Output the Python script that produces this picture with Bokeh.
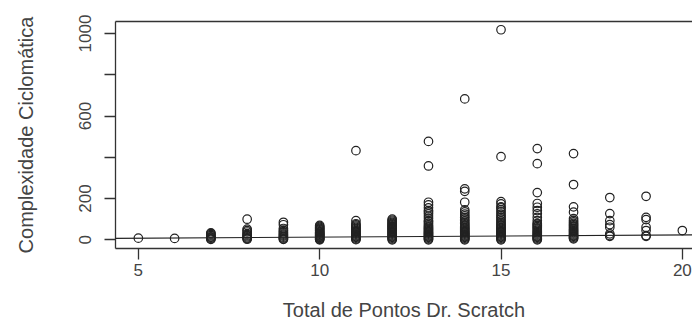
from bokeh.plotting import figure
from bokeh.models import LinearAxis, FixedTicker, Slope, ColumnDataSource
from bokeh.embed import file_html
from bokeh.resources import INLINE

# ---- data: cyclomatic complexity per Dr. Scratch total score ----
y_05 = [8]
y_06 = [7]
y_07 = [2, 5, 8, 12, 15, 20, 25, 30, 34]
y_08 = [3, 6, 10, 15, 20, 25, 30, 38, 45, 52, 100]
y_09 = [2, 5, 9, 13, 18, 23, 28, 34, 40, 47, 55, 73, 85]
y_10 = [0, 3, 6, 9, 12, 15, 18, 21, 24, 27, 30, 33, 36, 40, 44, 48, 52, 56, 60, 65, 70]
y_11 = [1, 4, 8, 12, 16, 20, 24, 28, 32, 36, 40, 45, 50, 55, 60, 66, 72, 78, 93, 432]
y_12 = [0, 4, 8, 12, 16, 20, 24, 28, 32, 36, 40, 44, 48, 52, 56, 60, 64, 68, 72, 76, 80, 85, 90, 95, 100]
y_13 = [0, 4, 8, 12, 16, 20, 24, 28, 32, 36, 40, 45, 50, 55, 60, 66, 72, 80, 88, 93, 105, 115,
        126, 135, 142, 155, 169, 182, 358, 477]
y_14 = [0, 4, 8, 12, 16, 20, 24, 28, 32, 36, 40, 45, 50, 55, 60, 66, 72, 78, 85, 92, 100, 108,
        116, 125, 135, 145, 182, 235, 247, 683]
y_15 = [0, 4, 8, 12, 16, 20, 24, 28, 32, 36, 40, 45, 50, 55, 60, 66, 72, 78, 85, 92, 100, 108,
        116, 125, 135, 145, 155, 160, 174, 185, 403, 1018]
y_16 = [0, 4, 8, 12, 16, 20, 25, 30, 35, 40, 46, 52, 58, 64, 70, 76, 80, 93, 109, 126, 142,
        158, 176, 229, 369, 442]
y_17 = [5, 9, 13, 17, 21, 25, 30, 35, 40, 45, 50, 56, 62, 68, 74, 80, 87, 94, 103, 134, 160,
        268, 418]
y_18 = [17, 21, 29, 61, 74, 93, 127, 205]
y_19 = [17, 21, 45, 61, 98, 109, 211]
y_20 = [45]

scores = [5, 6, 7, 8, 9, 10, 11, 12, 13, 14, 15, 16, 17, 18, 19, 20]
columns = [y_05, y_06, y_07, y_08, y_09, y_10, y_11, y_12, y_13, y_14, y_15, y_16,
           y_17, y_18, y_19, y_20]

# fitted line (intercept, slope)
fit_intercept = 2.8
fit_slope = 1.04

x_ticks = [5, 10, 15, 20]
y_ticks = [0, 200, 400, 600, 800, 1000]
y_tick_labels = {0: "0", 200: "200", 400: "", 600: "600", 800: "", 1000: "1000"}

xs, ys = [], []
for s, col in zip(scores, columns):
    xs += [s] * len(col)
    ys += col
src = ColumnDataSource(dict(x=xs, y=ys))

FONT = "Liberation Sans"
TXT = "#444444"
LINE = "#333333"

p = figure(width=692, height=327, x_range=(4.37, 20.28), y_range=(-42, 1058),
           output_backend="svg", toolbar_location=None,
           x_axis_location=None, y_axis_location=None,
           min_border_left=115, min_border_right=0, min_border_top=21, min_border_bottom=79)
p.grid.visible = False
p.outline_line_color = None
p.background_fill_color = "white"
p.border_fill_color = "white"

xa = LinearAxis(ticker=FixedTicker(ticks=x_ticks, minor_ticks=[]))
xa.axis_label = "Total de Pontos Dr. Scratch"
ya = LinearAxis(ticker=FixedTicker(ticks=y_ticks, minor_ticks=[]))
ya.axis_label = "Complexidade Ciclomática"
ya.major_label_overrides = y_tick_labels
ya.major_label_orientation = "vertical"
for ax in (xa, ya):
    ax.axis_line_color = LINE
    ax.axis_line_width = 1.3
    ax.major_tick_line_color = LINE
    ax.major_tick_line_width = 1.3
    ax.major_tick_out = 11
    ax.major_tick_in = 0
    ax.minor_tick_line_color = None
    ax.major_label_text_font = FONT
    ax.major_label_text_font_size = "17px"
    ax.major_label_text_color = TXT
    ax.axis_label_text_font = FONT
    ax.axis_label_text_font_size = "20px"
    ax.axis_label_text_font_style = "normal"
    ax.axis_label_text_color = TXT
xa.major_label_standoff = 4
xa.axis_label_standoff = 20
ya.major_label_standoff = 13
ya.axis_label_standoff = 40
p.add_layout(xa, "below")
p.add_layout(ya, "left")

top = LinearAxis(ticker=FixedTicker(ticks=[]), major_label_text_font_size="0px",
                 axis_line_color=LINE, axis_line_width=1.3,
                 major_tick_line_color=None, minor_tick_line_color=None)
p.add_layout(top, "above")

p.add_layout(Slope(gradient=fit_slope, y_intercept=fit_intercept,
                   line_color="#222222", line_width=1.2))

p.scatter("x", "y", source=src, marker="circle", size=8.5, fill_color=None,
          line_color="#222222", line_width=1.2)

open("out.html", "w").write(file_html(p, INLINE))
